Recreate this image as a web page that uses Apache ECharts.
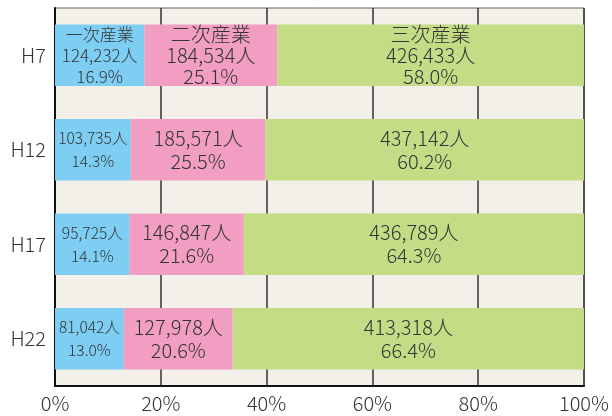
<!DOCTYPE html>
<html><head><meta charset="utf-8">
<script src="https://cdn.jsdelivr.net/npm/echarts@6/dist/echarts.min.js"></script>
<style>html,body{margin:0;padding:0;background:#fff}#c{width:612px;height:416px}</style>
</head><body><div id="c"></div>
<script>
const years = ['H7', 'H12', 'H17', 'H22'];
const seriesNames = ['一次産業', '二次産業', '三次産業'];
const primaryCount = ['124,232', '103,735', '95,725', '81,042'];
const primaryPct = [16.9, 14.3, 14.1, 13.0];
const secondaryCount = ['184,534', '185,571', '146,847', '127,978'];
const secondaryPct = [25.1, 25.5, 21.6, 20.6];
const tertiaryCount = ['426,433', '437,142', '436,789', '413,318'];
const tertiaryPct = [58.0, 60.2, 64.3, 66.4];
const xTicks = [0, 20, 40, 60, 80, 100];

const counts = [primaryCount, secondaryCount, tertiaryCount];
const pcts = [primaryPct, secondaryPct, tertiaryPct];
const colors = ['#7ECEF4', '#F19EC2', '#C3DC85'];
const font = '"Noto Sans CJK JP", "Noto Sans", sans-serif';

function makeSeries(si) {
  return {
    name: seriesNames[si],
    type: 'bar',
    stack: 'total',
    barWidth: '65%',
    itemStyle: { color: colors[si] },
    data: pcts[si].map((v, i) => ({
      value: v,
      label: {
        fontSize: si === 0 ? (i === 0 ? 17 : 15.5) : 20,
        lineHeight: si === 0 ? (i === 0 ? 21 : 23) : (i === 0 ? 21 : 23)
      }
    })),
    label: {
      show: true,
      position: 'inside',
      color: '#333',
      fontFamily: font,
      fontWeight: 300,
      formatter: p => {
        const i = p.dataIndex;
        const lines = [];
        if (i === 0) lines.push(seriesNames[si]);
        lines.push(counts[si][i] + '人');
        lines.push(pcts[si][i].toFixed(1) + '%');
        return lines.join('\n');
      }
    }
  };
}

const chart = echarts.init(document.getElementById('c'));
chart.setOption({
  animation: false,
  backgroundColor: '#fff',
  grid: {
    left: 55, right: 27, top: 8, bottom: 30,
    show: true, backgroundColor: '#F3F0E9', borderColor: '#666', borderWidth: 1
  },
  xAxis: {
    type: 'value', min: 0, max: 100, interval: 20,
    axisLine: { show: true, lineStyle: { color: '#111', width: 2 } },
    axisTick: { show: false },
    splitLine: { show: true, lineStyle: { color: '#333', width: 1.5 } },
    axisLabel: {
      color: '#333', fontSize: 20, fontFamily: font, fontWeight: 300, margin: 7,
      formatter: v => xTicks.includes(v) ? v + '%' : ''
    }
  },
  yAxis: {
    type: 'category', data: years, inverse: true,
    axisLine: { show: true, lineStyle: { color: '#111', width: 2 } },
    axisTick: { show: false },
    splitLine: { show: false },
    axisLabel: { color: '#333', fontSize: 20, fontFamily: font, fontWeight: 300, margin: 9 }
  },
  series: [makeSeries(0), makeSeries(1), makeSeries(2)]
});
</script></body></html>
